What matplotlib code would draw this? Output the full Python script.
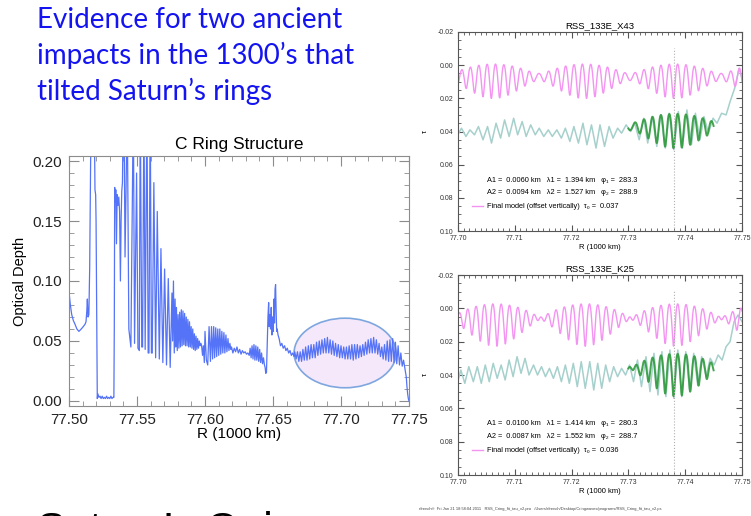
import numpy as np
import matplotlib
matplotlib.use('Agg')
import matplotlib.pyplot as plt
from matplotlib.patches import Ellipse
from matplotlib.lines import Line2D
from matplotlib.ticker import MultipleLocator, FormatStrFormatter

plt.rcParams['font.family'] = ['Liberation Sans', 'DejaVu Sans']

W, H = 751, 516

# C ring optical depth profile, (R in 1000 km, tau), split into stretches
inner_edge = [
    (77.5000, 0.091), (77.5010, 0.080), (77.5020, 0.072), (77.5032, 0.067),
    (77.5044, 0.064), (77.5058, 0.060), (77.5073, 0.058), (77.5090, 0.060),
    (77.5105, 0.062), (77.5118, 0.064), (77.5125, 0.066), (77.5131, 0.075),
    (77.5135, 0.085), (77.5140, 0.070), (77.5146, 0.072), (77.5152, 0.110),
    (77.5159, 0.200), (77.5165, 0.240), (77.5180, 0.250), (77.5189, 0.200),
    (77.5191, 0.176), (77.5196, 0.172), (77.5199, 0.150), (77.5204, 0.060),
    (77.5208, 0.002),
]
gap = [
    (77.5212, 0.006), (77.5220, 0.003), (77.5228, 0.004), (77.5236, 0.002),
    (77.5244, 0.004), (77.5252, 0.002), (77.5260, 0.003), (77.5268, 0.002),
    (77.5276, 0.004), (77.5284, 0.002), (77.5292, 0.003), (77.5300, 0.002),
    (77.5308, 0.004), (77.5316, 0.002), (77.5324, 0.003), (77.5330, 0.003),
]
wave_train = [
    (77.5333, 0.060), (77.5336, 0.178), (77.5340, 0.166), (77.5344, 0.176),
    (77.5349, 0.131), (77.5354, 0.172), (77.5360, 0.163), (77.5366, 0.170),
    (77.5372, 0.158), (77.5378, 0.100), (77.5383, 0.150), (77.5388, 0.175),
    (77.5393, 0.182), (77.5398, 0.230), (77.5404, 0.250), (77.5412, 0.120),
    (77.5420, 0.180), (77.5428, 0.250), (77.5440, 0.060), (77.5455, 0.045),
    (77.5473, 0.250), (77.5482, 0.048), (77.5497, 0.190), (77.5507, 0.044),
    (77.5517, 0.042), (77.5524, 0.250), (77.5535, 0.045), (77.5541, 0.045),
    (77.5551, 0.250), (77.5560, 0.043), (77.5573, 0.250), (77.5582, 0.040),
    (77.5588, 0.040), (77.5597, 0.250), (77.5606, 0.040), (77.5612, 0.040),
    (77.5624, 0.182), (77.5637, 0.036), (77.5649, 0.158), (77.5664, 0.035),
    (77.5676, 0.127), (77.5690, 0.032), (77.5703, 0.110), (77.5717, 0.030),
    (77.5730, 0.102), (77.5744, 0.028), (77.5757, 0.090), (77.5762, 0.050),
    (77.5768, 0.100), (77.5774, 0.040), (77.5780, 0.085), (77.5785, 0.045),
]
dense_band = [
    (77.5790, 0.078), (77.5796, 0.042), (77.5802, 0.072), (77.5808, 0.044),
    (77.5814, 0.074), (77.5820, 0.045), (77.5826, 0.076), (77.5832, 0.046),
    (77.5838, 0.075), (77.5844, 0.047), (77.5850, 0.073), (77.5856, 0.046),
    (77.5862, 0.070), (77.5868, 0.046), (77.5874, 0.068), (77.5880, 0.045),
    (77.5886, 0.066), (77.5892, 0.045), (77.5898, 0.062), (77.5904, 0.044),
    (77.5910, 0.060), (77.5916, 0.043), (77.5922, 0.056), (77.5928, 0.042),
    (77.5934, 0.054), (77.5940, 0.043), (77.5946, 0.052), (77.5952, 0.044),
    (77.5958, 0.050), (77.5964, 0.046), (77.5970, 0.048),
]
second_train = [
    (77.5975, 0.046), (77.5982, 0.038), (77.5988, 0.046), (77.5995, 0.032),
    (77.6000, 0.058), (77.6010, 0.034), (77.6020, 0.030), (77.6030, 0.062),
    (77.6040, 0.033), (77.6048, 0.062), (77.6056, 0.035), (77.6064, 0.062),
    (77.6071, 0.036), (77.6079, 0.061), (77.6086, 0.037), (77.6094, 0.060),
    (77.6101, 0.038), (77.6109, 0.060), (77.6116, 0.039), (77.6124, 0.058),
    (77.6131, 0.040), (77.6139, 0.057), (77.6146, 0.040), (77.6154, 0.055),
    (77.6161, 0.041), (77.6169, 0.052), (77.6176, 0.042), (77.6183, 0.048),
    (77.6190, 0.043),
]
plateau = [
    (77.6195, 0.045), (77.6205, 0.040), (77.6215, 0.044), (77.6225, 0.041),
    (77.6235, 0.045), (77.6245, 0.040), (77.6255, 0.043), (77.6265, 0.039),
    (77.6275, 0.042), (77.6285, 0.040), (77.6295, 0.041), (77.6305, 0.039),
    (77.6315, 0.040), (77.6325, 0.038), (77.6332, 0.044), (77.6339, 0.036),
    (77.6346, 0.046), (77.6353, 0.035), (77.6360, 0.047), (77.6367, 0.034),
    (77.6374, 0.046), (77.6381, 0.034), (77.6388, 0.045), (77.6395, 0.033),
    (77.6402, 0.043), (77.6409, 0.032), (77.6416, 0.040), (77.6423, 0.031),
    (77.6430, 0.036), (77.6437, 0.030), (77.6442, 0.028), (77.6447, 0.023),
    (77.6452, 0.024),
]
spike = [
    (77.6458, 0.050), (77.6463, 0.070), (77.6468, 0.082), (77.6472, 0.062),
    (77.6477, 0.072), (77.6482, 0.060), (77.6487, 0.078), (77.6492, 0.055),
    (77.6497, 0.070), (77.6502, 0.058), (77.6507, 0.085), (77.6511, 0.065),
    (77.6515, 0.093), (77.6519, 0.097), (77.6523, 0.075), (77.6527, 0.058),
    (77.6531, 0.060), (77.6537, 0.055), (77.6545, 0.052), (77.6555, 0.046),
    (77.6565, 0.048), (77.6575, 0.044), (77.6585, 0.046), (77.6595, 0.042),
    (77.6605, 0.044), (77.6615, 0.040), (77.6625, 0.042), (77.6635, 0.038),
    (77.6645, 0.040), (77.6655, 0.037),
]
outer_band = [
    (77.666, 0.041), (77.667, 0.035), (77.668, 0.041), (77.669, 0.033),
    (77.670, 0.041), (77.671, 0.033), (77.672, 0.043), (77.673, 0.034),
    (77.674, 0.045), (77.675, 0.034), (77.676, 0.046), (77.677, 0.035),
    (77.678, 0.047), (77.679, 0.036), (77.680, 0.047), (77.681, 0.036),
    (77.682, 0.049), (77.683, 0.038), (77.684, 0.050), (77.685, 0.039),
    (77.686, 0.051), (77.687, 0.040), (77.688, 0.052), (77.689, 0.040),
    (77.690, 0.053), (77.691, 0.040), (77.692, 0.051), (77.693, 0.039),
    (77.694, 0.050), (77.695, 0.038), (77.696, 0.048), (77.697, 0.037),
    (77.698, 0.047), (77.699, 0.036), (77.700, 0.046), (77.701, 0.036),
    (77.702, 0.045), (77.703, 0.035), (77.704, 0.045), (77.705, 0.035),
    (77.706, 0.046), (77.707, 0.035), (77.708, 0.047), (77.709, 0.034),
    (77.710, 0.047), (77.711, 0.035), (77.712, 0.047), (77.713, 0.036),
    (77.714, 0.046), (77.715, 0.037), (77.716, 0.047), (77.717, 0.038),
    (77.718, 0.049), (77.719, 0.039), (77.720, 0.051), (77.721, 0.040),
    (77.722, 0.052), (77.723, 0.040), (77.724, 0.053), (77.725, 0.040),
    (77.726, 0.051), (77.727, 0.039), (77.728, 0.048), (77.729, 0.037),
    (77.730, 0.045), (77.731, 0.035), (77.732, 0.047), (77.733, 0.034),
    (77.734, 0.050), (77.735, 0.033), (77.736, 0.051), (77.737, 0.033),
    (77.738, 0.052), (77.739, 0.032), (77.740, 0.049), (77.741, 0.031),
    (77.742, 0.046), (77.743, 0.030), (77.744, 0.040), (77.745, 0.029),
    (77.746, 0.034), (77.747, 0.027), (77.748, 0.020), (77.7485, 0.012),
    (77.749, 0.006), (77.7495, 0.002), (77.750, 0.000),
]

# observed profiles across the wave region (extrema of the trace)
x43_r = [
    77.6998, 77.7006, 77.7014, 77.7021, 77.7029, 77.7036, 77.7044, 77.7052,
    77.7059, 77.7067, 77.7075, 77.7082, 77.7090, 77.7098, 77.7105, 77.7113,
    77.7120, 77.7128, 77.7136, 77.7143, 77.7151, 77.7159, 77.7166, 77.7174,
    77.7182, 77.7189, 77.7197, 77.7204, 77.7212, 77.7220, 77.7227, 77.7235,
    77.7243, 77.7250, 77.7258, 77.7266, 77.7273, 77.7281, 77.7288, 77.7296,
    77.7304, 77.7311, 77.7319, 77.7327, 77.7334, 77.7342, 77.7350, 77.7357,
    77.7365, 77.7372, 77.7380, 77.7388, 77.7395, 77.7403, 77.7411, 77.7418,
    77.7426, 77.7433, 77.7441, 77.7449, 77.7456, 77.7464, 77.7472, 77.7479,
    77.7487, 77.7495, 77.7500,
]
x43_tau = [
    0.043, 0.038, 0.043, 0.039, 0.042, 0.037, 0.045, 0.037,
    0.047, 0.035, 0.044, 0.033, 0.043, 0.032, 0.042, 0.034,
    0.043, 0.036, 0.042, 0.038, 0.043, 0.039, 0.043, 0.039,
    0.044, 0.038, 0.046, 0.037, 0.047, 0.035, 0.048, 0.036,
    0.050, 0.036, 0.049, 0.037, 0.044, 0.038, 0.041, 0.036,
    0.040, 0.035, 0.045, 0.032, 0.047, 0.031, 0.049, 0.030,
    0.050, 0.029, 0.051, 0.028, 0.050, 0.027, 0.048, 0.029,
    0.045, 0.031, 0.041, 0.032, 0.035, 0.029, 0.030, 0.022,
    0.014, 0.002, 0.008,
]
k25_r = [
    77.6998, 77.7005, 77.7012, 77.7019, 77.7027, 77.7034, 77.7041, 77.7048,
    77.7055, 77.7062, 77.7069, 77.7076, 77.7083, 77.7090, 77.7097, 77.7104,
    77.7111, 77.7118, 77.7125, 77.7133, 77.7140, 77.7147, 77.7154, 77.7161,
    77.7168, 77.7175, 77.7182, 77.7189, 77.7196, 77.7203, 77.7210, 77.7217,
    77.7224, 77.7232, 77.7239, 77.7246, 77.7253, 77.7260, 77.7267, 77.7274,
    77.7281, 77.7288, 77.7295, 77.7302, 77.7309, 77.7316, 77.7323, 77.7331,
    77.7338, 77.7345, 77.7352, 77.7359, 77.7366, 77.7373, 77.7380, 77.7387,
    77.7394, 77.7401, 77.7408, 77.7415, 77.7422, 77.7429, 77.7437, 77.7444,
    77.7451, 77.7458, 77.7465, 77.7472, 77.7479, 77.7486, 77.7493, 77.7500,
]
k25_tau = [
    0.046, 0.037, 0.045, 0.035, 0.044, 0.035, 0.045, 0.034,
    0.044, 0.033, 0.042, 0.034, 0.043, 0.031, 0.041, 0.029,
    0.039, 0.030, 0.040, 0.034, 0.040, 0.035, 0.041, 0.036,
    0.042, 0.035, 0.044, 0.034, 0.045, 0.033, 0.047, 0.032,
    0.048, 0.032, 0.049, 0.033, 0.048, 0.034, 0.044, 0.035,
    0.041, 0.036, 0.040, 0.034, 0.044, 0.031, 0.047, 0.029,
    0.050, 0.027, 0.052, 0.026, 0.053, 0.025, 0.054, 0.025,
    0.053, 0.026, 0.050, 0.027, 0.046, 0.029, 0.041, 0.030,
    0.034, 0.028, 0.031, 0.023, 0.020, 0.008, 0.004, 0.008,
]

# two-wave fits: amplitudes (km), wavelengths (km), phases (deg), tau0
x43_amp, x43_lam, x43_phi, x43_tau0 = [0.0060, 0.0094], [1.394, 1.527], [283.3, 288.9], 0.037
k25_amp, k25_lam, k25_phi, k25_tau0 = [0.0100, 0.0087], [1.414, 1.552], [280.3, 288.7], 0.036
r_ref = 77.738          # reference radius of the fit (dotted line)
fit_range = (77.730, 77.745)
model_offset = -0.030   # vertical shift of the full-range model
wave_gain = 17.0        # tau response per km of wave amplitude

blue = '#5473f7'
pink = '#f494f2'
teal = '#a6d0cc'
green = '#2f9a3c'


def px_rect(x0, y0, x1, y1):
    return [x0 / W, 1 - y1 / H, (x1 - x0) / W, (y1 - y0) / H]


def wave_model(r, amp, lam, phi, tau0):
    x = (r - r_ref) * 1000.0
    w = sum(a * np.sin(2 * np.pi * x / l + np.radians(p))
            for a, l, p in zip(amp, lam, phi))
    return tau0 / (1 + wave_gain * w)


def idl_axes(ax, color, length):
    for s in ax.spines.values():
        s.set_color(color)
        s.set_linewidth(0.8)
    ax.tick_params(which='both', direction='in', top=True, right=True,
                   color=color)
    ax.tick_params(which='major', length=length)
    ax.tick_params(which='minor', length=length / 2)


fig = plt.figure(figsize=(W / 100, H / 100), dpi=100)

# slide heading
heading = ['Evidence for two ancient', 'impacts in the 1300\u2019s that',
           'tilted Saturn\u2019s rings']
for i, line in enumerate(heading):
    fig.text(37 / W, 1 - (28 + 36 * i) / H, line, fontsize=20,
             family=['Lato', 'DejaVu Sans'], color='#1414f0', va='baseline')
fig.text(37 / W, 1 - 542 / H, 'Saturn\u2019s C ring', fontsize=31,
         color='black', va='baseline')

# C ring profile
r, tau = np.array(inner_edge + gap + wave_train + dense_band + second_train
                  + plateau + spike + outer_band).T
ax = fig.add_axes(px_rect(69, 156, 409, 406))
ax.add_patch(Ellipse((77.703, 0.040), 0.075, 0.058, facecolor='#f6e8fb',
                     edgecolor='#7ea6df', lw=1.2, zorder=1))
ax.plot(r, tau, color=blue, lw=0.9, zorder=2)
ax.set_xlim(77.50, 77.75)
ax.set_ylim(-0.0042, 0.2042)
ax.xaxis.set_major_locator(MultipleLocator(0.05))
ax.xaxis.set_minor_locator(MultipleLocator(0.01))
ax.yaxis.set_major_locator(MultipleLocator(0.05))
ax.yaxis.set_minor_locator(MultipleLocator(0.01))
ax.xaxis.set_major_formatter(FormatStrFormatter('%.2f'))
ax.yaxis.set_major_formatter(FormatStrFormatter('%.2f'))
idl_axes(ax, '#8c8c8c', 7)
ax.tick_params(labelsize=11, labelcolor='#222222', pad=5)
ax.set_title('C Ring Structure', fontsize=12.5, pad=5)
ax.set_xlabel('R (1000 km)', fontsize=11, labelpad=0)
ax.set_ylabel('Optical Depth', fontsize=10.5, labelpad=4)

# wave fits for the two occultations
panels = [
    ('RSS_133E_X43', (458, 32, 742, 231), x43_r, x43_tau,
     x43_amp, x43_lam, x43_phi, x43_tau0),
    ('RSS_133E_K25', (458, 275, 742, 475), k25_r, k25_tau,
     k25_amp, k25_lam, k25_phi, k25_tau0),
]
r_full = np.linspace(77.700, 77.750, 2500)
r_fit = np.linspace(fit_range[0], fit_range[1], 900)
for name, box, obs_r, obs_tau, amp, lam, phi, tau0 in panels:
    ax = fig.add_axes(px_rect(*box))
    ax.plot(obs_r, obs_tau, color=teal, lw=1.1)
    ax.plot(r_fit, wave_model(r_fit, amp, lam, phi, tau0), color=green,
            lw=1.4, alpha=0.9)
    ax.plot(r_full, wave_model(r_full, amp, lam, phi, tau0) + model_offset,
            color=pink, lw=1.0)
    ax.axvline(r_ref, ymin=0, ymax=0.92, color='#b0b0b0', ls=':', lw=0.8)
    ax.set_xlim(77.70, 77.75)
    ax.set_ylim(0.10, -0.02)
    ax.xaxis.set_major_locator(MultipleLocator(0.01))
    ax.xaxis.set_minor_locator(MultipleLocator(0.001))
    ax.yaxis.set_major_locator(MultipleLocator(0.02))
    ax.yaxis.set_minor_locator(MultipleLocator(0.005))
    ax.xaxis.set_major_formatter(FormatStrFormatter('%.2f'))
    ax.yaxis.set_major_formatter(FormatStrFormatter('%.2f'))
    idl_axes(ax, '#555555', 4)
    ax.tick_params(labelsize=5, labelcolor='#333333', pad=3)
    ax.set_title(name, fontsize=6.8, pad=3)
    ax.set_xlabel('R (1000 km)', fontsize=5.5, labelpad=1)
    ax.set_ylabel('\u03c4', fontsize=5.5, rotation=90, labelpad=6)
    ax.text(0.102, 0.256, f'A1 =  {amp[0]:.4f} km   \u03bb1 =  {lam[0]:.3f} km'
            f'   \u03c6\u2081 =  {phi[0]:.1f}', transform=ax.transAxes,
            fontsize=5.3, va='center')
    ax.text(0.102, 0.191, f'A2 =  {amp[1]:.4f} km   \u03bb2 =  {lam[1]:.3f} km'
            f'   \u03c6\u2082 =  {phi[1]:.1f}', transform=ax.transAxes,
            fontsize=5.3, va='center')
    ax.legend(handles=[Line2D([], [], color=pink, lw=1.0)],
              labels=[f'Final model (offset vertically)  \u03c4\u2080 =  {tau0:.3f}'],
              loc='center left', bbox_to_anchor=(0.05, 0.121), frameon=False,
              fontsize=5.3, handlelength=1.4, handletextpad=0.6,
              borderpad=0, borderaxespad=0)

fig.text(419 / W, 1 - 509 / H,
         'rfrench\u00ae  Fri Jan 21 18:58:04 2011   RSS_Cring_fit_tau_v2.pro   '
         '/Users/rfrench/Desktop/Cringwaves/programs/RSS_Cring_fit_tau_v2.ps',
         fontsize=2.9, color='#444444', va='center')

fig.savefig('out.png', dpi=100)
